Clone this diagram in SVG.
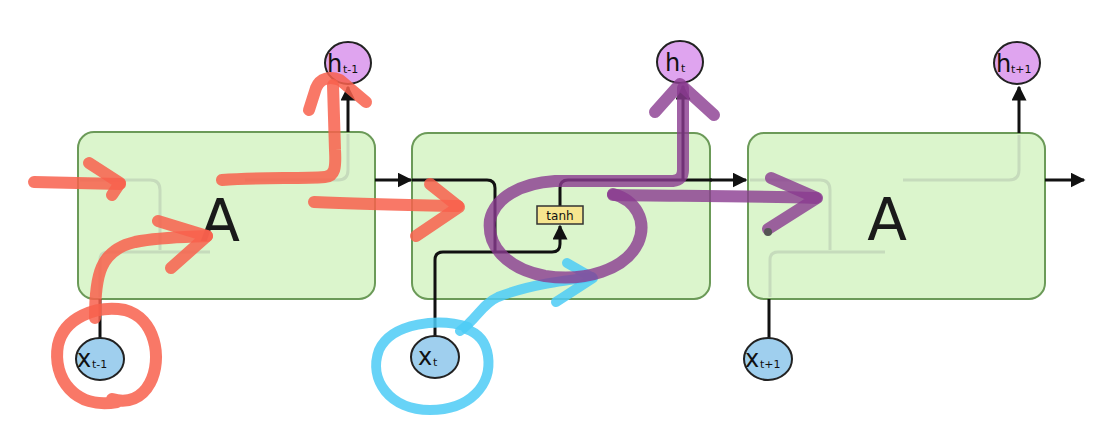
<svg xmlns="http://www.w3.org/2000/svg" width="1120" height="446" viewBox="0 0 1120 446">
  <style>
    .cell { fill: #dbf5cc; stroke: #6b9a58; stroke-width: 2; }
    .wire { fill: none; stroke: #111; stroke-width: 3; }
    .ghost { fill: none; stroke: #c6dbbc; stroke-width: 3; }
    .hnode { fill: #dfa4ef; stroke: #222; stroke-width: 2; }
    .xnode { fill: #9fcfee; stroke: #222; stroke-width: 2; }
    .big { font-family: "DejaVu Sans", "Liberation Sans", sans-serif; font-size: 24px; fill: #111; }
    .sub { font-family: "DejaVu Sans", "Liberation Sans", sans-serif; font-size: 11px; fill: #111; }
    .cellLabel { font-family: "DejaVu Sans", "Liberation Sans", sans-serif; font-size: 58px; fill: #1a1a1a; text-anchor: middle; }
    .gate { fill: #f6e58f; stroke: #333; stroke-width: 1.5; }
    .gateText { font-family: "DejaVu Sans", "Liberation Sans", sans-serif; font-size: 12px; fill: #111; text-anchor: middle; }
    .red { fill: none; stroke: #f8604c; stroke-opacity: 0.85; stroke-width: 12; stroke-linecap: round; stroke-linejoin: round; }
    .purple { fill: none; stroke: #8a3b90; stroke-opacity: 0.8; stroke-width: 12; stroke-linecap: round; stroke-linejoin: round; }
    .blue { fill: none; stroke: #4ccbf6; stroke-opacity: 0.85; stroke-width: 10; stroke-linecap: round; stroke-linejoin: round; }
  </style>
  <defs>
    <marker id="arrow" viewBox="0 0 10 10" refX="9" refY="5" markerWidth="5" markerHeight="5" markerUnits="strokeWidth" orient="auto">
      <path d="M0,0 L10,5 L0,10 z" fill="#111"/>
    </marker>
  </defs>

  <rect width="1120" height="446" fill="#fff"/>

  <!-- cell at t-1 -->
  <g id="cell-prev">
    <rect class="cell" x="78" y="132" width="297" height="167" rx="16"/>
    <path class="ghost" d="M80,180 L150,180 Q160,180 160,190 L160,250"/>
    <path class="ghost" d="M100,297 L100,260 Q100,252 108,252 L210,252"/>
    <path class="ghost" d="M245,180 L338,180 Q348,180 348,170 L348,134"/>
    <text class="cellLabel" x="220" y="241">A</text>
  </g>

  <!-- cell at t -->
  <g id="cell-cur">
    <rect class="cell" x="412" y="133" width="298" height="166" rx="16"/>
  </g>

  <!-- cell at t+1 -->
  <g id="cell-next">
    <rect class="cell" x="748" y="133" width="297" height="166" rx="16"/>
    <path class="ghost" d="M750,180 L820,180 Q830,180 830,190 L830,250"/>
    <path class="ghost" d="M770,297 L770,260 Q770,252 778,252 L885,252"/>
    <path class="ghost" d="M903,180 L1009,180 Q1019,180 1019,170 L1019,135"/>
    <text class="cellLabel" x="887" y="240">A</text>
  </g>

  <!-- connectors -->
  <g id="connectors">
    <path class="wire" d="M375,180 L411,180" marker-end="url(#arrow)"/>
    <path class="wire" d="M710,180 L746,180" marker-end="url(#arrow)"/>
    <path class="wire" d="M1045,180 L1084,180" marker-end="url(#arrow)"/>
    <path class="wire" d="M348,132 L348,87" marker-end="url(#arrow)"/>
    <path class="wire" d="M1019,133 L1019,87" marker-end="url(#arrow)"/>
    <path class="wire" d="M100,338 L100,299"/>
    <path class="wire" d="M769,338 L769,299"/>
    <!-- inside cell t -->
    <path class="wire" d="M412,180 L487,180 Q495,180 495,188 L495,252"/>
    <path class="wire" d="M435,336 L435,260 Q435,252 443,252 L552,252 Q560,252 560,244 L560,226" marker-end="url(#arrow)"/>
    <path class="wire" d="M560,206 L560,188 Q560,180 568,180 L712,180"/>
    <path class="wire" d="M683,180 L683,86" marker-end="url(#arrow)"/>
  </g>

  <g id="tanh">
    <rect class="gate" x="537" y="206" width="46" height="18"/>
    <text class="gateText" x="560" y="219.5">tanh</text>
  </g>

  <g id="h-prev">
    <ellipse class="hnode" cx="348" cy="63" rx="23" ry="21"/>
    <text class="big" x="327" y="72">h</text><text class="sub" x="343" y="73">t-1</text>
  </g>
  <g id="h-cur">
    <ellipse class="hnode" cx="680" cy="62" rx="23" ry="21"/>
    <text class="big" x="665" y="71">h</text><text class="sub" x="681" y="72">t</text>
  </g>
  <g id="h-next">
    <ellipse class="hnode" cx="1017" cy="63" rx="23" ry="21"/>
    <text class="big" x="996" y="72">h</text><text class="sub" x="1011" y="73">t+1</text>
  </g>
  <g id="x-prev">
    <ellipse class="xnode" cx="100" cy="359" rx="24" ry="21"/>
    <text class="big" x="77" y="367">x</text><text class="sub" x="92" y="368">t-1</text>
  </g>
  <g id="x-cur">
    <ellipse class="xnode" cx="435" cy="357" rx="24" ry="21"/>
    <text class="big" x="418" y="365">x</text><text class="sub" x="433" y="366">t</text>
  </g>
  <g id="x-next">
    <ellipse class="xnode" cx="768" cy="359" rx="24" ry="21"/>
    <text class="big" x="745" y="367">x</text><text class="sub" x="760" y="368">t+1</text>
  </g>

  <!-- hand-drawn highlights -->
  <g id="ink-red">
    <path class="red" d="M34,182 L120,184"/>
    <path class="red" d="M89,163 L120,183 L112,195"/>
    <path class="red" d="M95,318 C95,275 100,250 135,242 C160,237 185,237 207,236"/>
    <path class="red" d="M158,221 L207,236 L171,268"/>
    <path class="red" d="M222,180 C260,177 300,179 325,177 C335,176 336,168 335,150 L333,85"/>
    <path class="red" d="M309,110 L316,88 C320,78 330,76 340,80 L366,102"/>
    <path class="red" d="M314,202 C360,204 410,205 458,206"/>
    <path class="red" d="M430,184 L459,207 L416,236"/>
    <path class="red" d="M117,402 C75,410 52,378 58,345 C64,318 95,305 125,310 C155,318 163,358 150,383 C142,398 128,404 112,399"/>
  </g>
  <g id="ink-blue">
    <path class="blue" d="M468,327 C440,318 392,322 379,350 C368,380 390,410 430,410 C470,410 492,385 488,356 C486,342 478,333 466,329"/>
    <path class="blue" d="M460,331 C476,320 482,304 498,297 C528,285 560,281 592,277"/>
    <path class="blue" d="M567,263 L593,278 L556,302"/>
  </g>
  <g id="ink-purple">
    <path class="purple" d="M683,88 L683,170 Q683,180 673,181 L555,181 C520,183 495,198 490,220 C487,245 505,268 545,276 C585,282 625,270 638,243 C648,220 635,200 613,194"/>
    <path class="purple" d="M613,195 C680,196 750,196 816,198"/>
    <path class="purple" d="M771,178 L817,198 L768,229"/>
    <path class="purple" d="M655,112 L680,84 L714,115"/>
    <circle cx="768" cy="232" r="4" fill="#555"/>
  </g>
</svg>
